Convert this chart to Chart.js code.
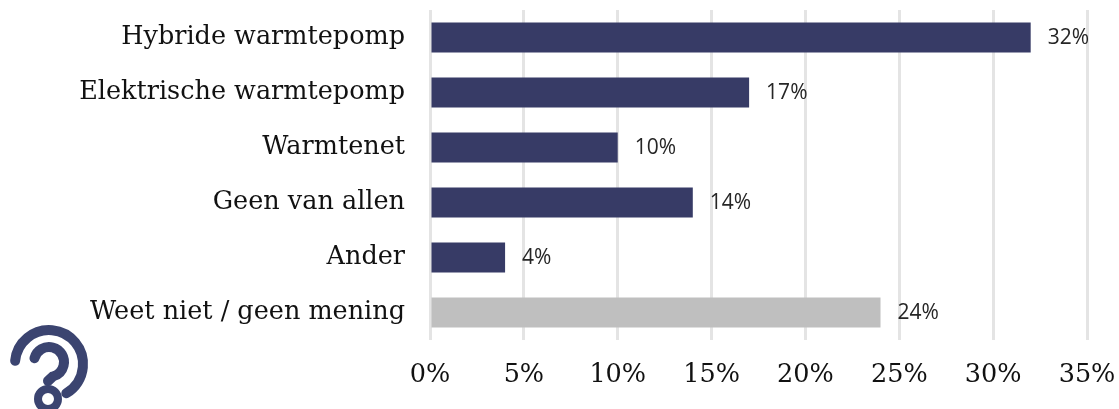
<!DOCTYPE html>
<html>
<head>
<meta charset="utf-8">
<script src="https://cdn.jsdelivr.net/npm/chart.js@4"></script>
<style>
  html, body { margin: 0; padding: 0; background: #fff; overflow: hidden; }
  canvas { display: block; }
</style>
</head>
<body>
<canvas id="chart" width="1119" height="409"></canvas>
<script>
const categories = [
  "Hybride warmtepomp",
  "Elektrische warmtepomp",
  "Warmtenet",
  "Geen van allen",
  "Ander",
  "Weet niet / geen mening",
];
const values = [32, 17, 10, 14, 4, 24];
const barColors = ["#373b66", "#373b66", "#373b66", "#373b66", "#373b66", "#bfbfbf"];
const xTicks = [0, 5, 10, 15, 20, 25, 30, 35];

const serif = "'DejaVu Serif', serif";

// percentage next to each bar
const valueLabels = {
  id: "valueLabels",
  afterDatasetsDraw(chart) {
    const { ctx } = chart;
    const bars = chart.getDatasetMeta(0).data;
    ctx.save();
    ctx.font = "21px 'Open Sans'";
    ctx.fillStyle = "#262626";
    ctx.textBaseline = "middle";
    bars.forEach((bar, i) => {
      ctx.fillText(values[i] + "%", bar.x + 17, bar.y + 1);
    });
    ctx.restore();
  },
};

// question mark logo bottom left
const logo = {
  id: "logo",
  afterDraw(chart) {
    const { ctx } = chart;
    ctx.save();
    ctx.strokeStyle = "#3b4470";
    ctx.lineCap = "round";
    ctx.lineWidth = 10;
    ctx.beginPath();
    ctx.arc(49, 364, 34, Math.PI * 1.03, Math.PI * 0.33);
    ctx.stroke();
    ctx.beginPath();
    ctx.arc(49, 362, 15, Math.PI * 1.08, Math.PI * 0.42);
    ctx.lineTo(48, 381);
    ctx.stroke();
    ctx.lineWidth = 8;
    ctx.beginPath();
    ctx.arc(48, 399, 10, 0, Math.PI * 2);
    ctx.stroke();
    ctx.restore();
  },
};

new Chart(document.getElementById("chart"), {
  type: "bar",
  data: {
    labels: categories,
    datasets: [
      {
        data: values,
        backgroundColor: barColors,
        barPercentage: 0.545,
        categoryPercentage: 1,
      },
    ],
  },
  plugins: [valueLabels, logo],
  options: {
    indexAxis: "y",
    responsive: false,
    animation: false,
    layout: { padding: { top: 10, right: 32, bottom: 0, left: 0 } },
    plugins: {
      legend: { display: false },
      tooltip: { enabled: false },
    },
    scales: {
      x: {
        min: 0,
        max: 35,
        afterBuildTicks: (axis) => {
          axis.ticks = xTicks.map((value) => ({ value }));
        },
        afterFit: (axis) => {
          axis.height = 69;
          axis.paddingLeft = 0;
          axis.paddingRight = 0;
        },
        grid: { color: "#e4e4e4", lineWidth: 3, drawTicks: false },
        border: { display: false },
        ticks: {
          callback: (v) => v + "%",
          color: "#111",
          font: { family: serif, size: 25.5 },
          padding: 20,
          maxRotation: 0,
        },
      },
      y: {
        afterFit: (axis) => {
          axis.width = 430;
          axis.paddingTop = 0;
          axis.paddingBottom = 0;
        },
        grid: { display: false },
        border: { display: false },
        ticks: {
          color: "#111",
          font: { family: serif, size: 25.5 },
          padding: 17,
        },
      },
    },
  },
});
</script>
</body>
</html>
